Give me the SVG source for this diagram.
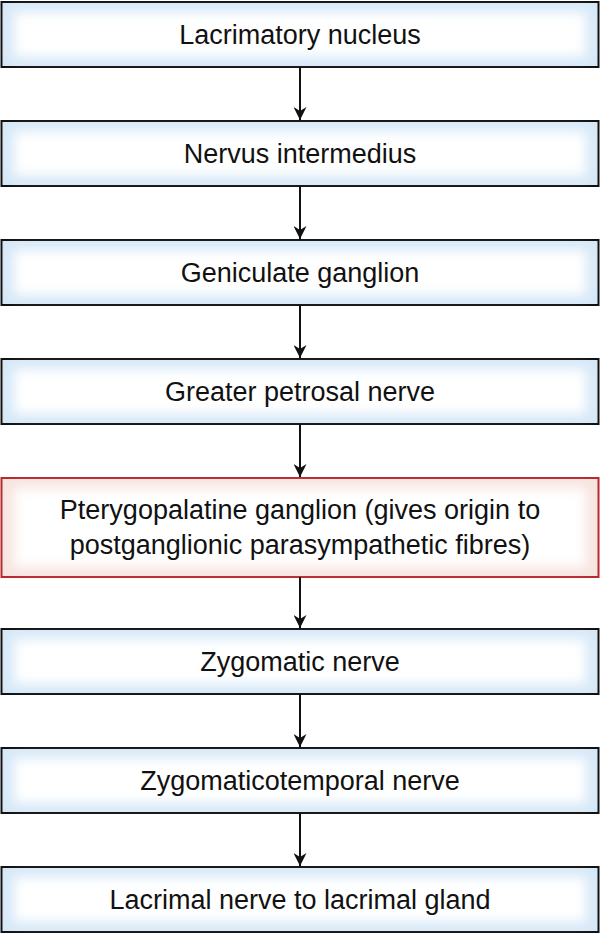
<svg xmlns="http://www.w3.org/2000/svg" width="600" height="935" viewBox="0 0 600 935">
<style>
.o{fill:#d6e8f7;stroke:#111;stroke-width:2}
.i{fill:#fff;filter:url(#b)}
.ro{fill:#f7e4e0;stroke:#b8282d;stroke-width:2}
.ri{fill:#fff;filter:url(#b)}
text{font-family:"Liberation Sans",sans-serif;font-size:27px;fill:#111;text-anchor:middle}
.c line{stroke:#111;stroke-width:2;marker-end:url(#a)}
</style>
<defs>
<filter id="b" x="-10%" y="-30%" width="120%" height="160%"><feGaussianBlur stdDeviation="6"/></filter>
<marker id="a" viewBox="0 0 10 10" refX="10" refY="5" markerWidth="17" markerHeight="13" markerUnits="userSpaceOnUse" orient="auto"><path d="M0,0L10,5L0,10L3,5z" fill="#111"/></marker>
</defs>
<g id="n1"><rect class="o" x="1.5" y="2" width="597" height="65"/><rect class="i" x="14" y="12" width="572" height="45"/><text x="300" y="44">Lacrimatory nucleus</text></g>
<g id="n2"><rect class="o" x="1.5" y="121" width="597" height="65"/><rect class="i" x="14" y="131" width="572" height="45"/><text x="300" y="163">Nervus intermedius</text></g>
<g id="n3"><rect class="o" x="1.5" y="240" width="597" height="65"/><rect class="i" x="14" y="250" width="572" height="45"/><text x="300" y="282">Geniculate ganglion</text></g>
<g id="n4"><rect class="o" x="1.5" y="359" width="597" height="65"/><rect class="i" x="14" y="369" width="572" height="45"/><text x="300" y="401">Greater petrosal nerve</text></g>
<g id="n5"><rect class="ro" x="1.5" y="478" width="597" height="99"/><rect class="ri" x="14" y="488" width="572" height="79"/><text x="300" y="519">Pterygopalatine ganglion (gives origin to</text><text x="300" y="554">postganglionic parasympathetic fibres)</text></g>
<g id="n6"><rect class="o" x="1.5" y="629" width="597" height="65"/><rect class="i" x="14" y="639" width="572" height="45"/><text x="300" y="671">Zygomatic nerve</text></g>
<g id="n7"><rect class="o" x="1.5" y="748" width="597" height="65"/><rect class="i" x="14" y="758" width="572" height="45"/><text x="300" y="790">Zygomaticotemporal nerve</text></g>
<g id="n8"><rect class="o" x="1.5" y="867" width="597" height="65"/><rect class="i" x="14" y="877" width="572" height="45"/><text x="300" y="909">Lacrimal nerve to lacrimal gland</text></g>
<g class="c">
<line x1="300" y1="67" x2="300" y2="120"/>
<line x1="300" y1="186" x2="300" y2="239"/>
<line x1="300" y1="305" x2="300" y2="358"/>
<line x1="300" y1="424" x2="300" y2="477"/>
<line x1="300" y1="577" x2="300" y2="628"/>
<line x1="300" y1="694" x2="300" y2="747"/>
<line x1="300" y1="813" x2="300" y2="866"/>
</g>
</svg>
